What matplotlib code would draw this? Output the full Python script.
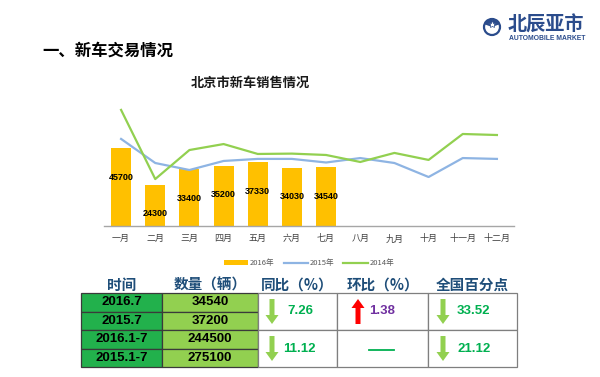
import numpy as np
import matplotlib.pyplot as plt
from matplotlib import patches

plt.rcParams['font.family'] = ['Noto Sans CJK SC', 'DejaVu Sans']

# chart data
months = ['一月', '二月', '三月', '四月', '五月', '六月', '七月',
          '八月', '九月', '十月', '十一月', '十二月']
sales_2016 = [45700, 24300, 33400, 35200, 37330, 34030, 34540]
sales_2015 = [51000, 36900, 32800, 38100, 39300, 39300, 37200,
              39800, 36900, 28700, 39800, 39300]
sales_2014 = [68000, 27500, 44500, 48000, 42200, 42400, 41600,
              37500, 42800, 38700, 53900, 53300]

# table data
headers = ['时间', '数量（辆）', '同比（%）', '环比（%）', '全国百分点']
periods = ['2016.7', '2015.7', '2016.1-7', '2015.1-7']
volumes = [34540, 37200, 244500, 275100]
yoy = [7.26, 11.12]
mom = [1.38, None]
national = [33.52, 21.12]

W, H = 600, 377
fig = plt.figure(figsize=(6, 3.77), dpi=100)

# full-figure layer in pixel units for slide decorations and table
bg = fig.add_axes([0, 0, 1, 1])
bg.set_xlim(0, W)
bg.set_ylim(H, 0)
bg.axis('off')

bg.text(42, 51, '一、新车交易情况', fontsize=11.8, fontweight='bold',
        va='center', ha='left', color='black')
bg.text(250, 83, '北京市新车销售情况', fontsize=9.5, fontweight='bold',
        va='center', ha='center', color='#1a1a1a')

# logo
logo_blue = '#2b4c8c'
bg.add_patch(patches.Circle((492, 27), 8, fill=False, ec=logo_blue, lw=1.6))
bg.add_patch(patches.Wedge((492, 27), 8, 200, 340, fc=logo_blue, ec='none'))
bg.plot([492], [24], marker='*', ms=6, color='white', mec=logo_blue, mew=0.5)
bg.text(508, 25, '北辰亚市', fontsize=13.8, fontweight='heavy', color=logo_blue,
        va='center', ha='left')
bg.text(509, 39, 'AUTOMOBILE MARKET', fontsize=4.9, fontweight='bold',
        color=logo_blue, va='center', ha='left', family='Liberation Sans')

# chart axes
x = np.arange(len(months))
ax = fig.add_axes([104 / W, 1 - 226 / H, 410 / W, 119.5 / H])
bars = ax.bar(x[:len(sales_2016)], sales_2016, width=0.585, color='#FFC000',
              label='2016年', zorder=2)
l15, = ax.plot(x, sales_2015, color='#8EB4E3', lw=1.6, label='2015年', zorder=3)
l14, = ax.plot(x, sales_2014, color='#92D050', lw=1.6, label='2014年', zorder=4)
for xi, v in zip(x, sales_2016):
    ax.text(xi, v - 17000, str(v), ha='center', va='center', fontsize=6.5,
            fontweight='bold', family='Liberation Sans', zorder=5)
ax.set_xlim(-0.5, len(months) - 0.5)
ax.set_ylim(0, 70000)
ax.set_xticks(x)
ax.set_xticklabels(months, fontsize=6.5, color='#404040')
ax.tick_params(axis='x', length=0, pad=6)
ax.set_yticks([])
for s in ['top', 'right', 'left']:
    ax.spines[s].set_visible(False)
ax.spines['bottom'].set_color('#a6a6a6')
ax.spines['bottom'].set_linewidth(1.0)
ax.patch.set_alpha(0)
leg = ax.legend([bars, l15, l14], ['2016年', '2015年', '2014年'],
                loc='upper center', bbox_to_anchor=(0.5, -0.22), ncol=3,
                frameon=False, fontsize=5.5, handlelength=3.2,
                handleheight=0.6, columnspacing=1.2, handletextpad=0.2)
for t in leg.get_texts():
    t.set_color('#595959')

# table
col_edges = [81, 162, 258, 337, 428, 517]
row_edges = [293, 311.5, 330, 348.5, 367]
header_y = 284.5
hdr_color = '#1f4e79'
for i, h in enumerate(headers):
    cx = (col_edges[i] + col_edges[i + 1]) / 2
    bg.text(cx, header_y, h, fontsize=10.5, fontweight='bold', color=hdr_color,
            ha='center', va='center')

fills = ['#22B14C', '#92D050']
for c in range(2):
    for r in range(4):
        bg.add_patch(patches.Rectangle((col_edges[c], row_edges[r]),
                                       col_edges[c + 1] - col_edges[c],
                                       row_edges[r + 1] - row_edges[r],
                                       fc=fills[c], ec='#3a3a3a', lw=0.9))
    vals = periods if c == 0 else [str(v) for v in volumes]
    cx = (col_edges[c] + col_edges[c + 1]) / 2
    for r, s in enumerate(vals):
        cy = (row_edges[r] + row_edges[r + 1]) / 2
        bg.text(cx, cy, s, fontsize=9.5, fontweight='bold',
                family='Liberation Sans', ha='center', va='center')

# merged white cells
grid_c = '#7f7f7f'
for c in range(2, 5):
    for r in (0, 2):
        bg.add_patch(patches.Rectangle((col_edges[c], row_edges[r]),
                                       col_edges[c + 1] - col_edges[c],
                                       row_edges[r + 2] - row_edges[r],
                                       fc='white', ec=grid_c, lw=0.9))


def arrow(xc, y_from, y_to, color):
    bg.add_patch(patches.FancyArrow(xc, y_from, 0, y_to - y_from, width=5,
                                    head_width=13, head_length=9,
                                    length_includes_head=True,
                                    fc=color, ec='none'))


val_green = '#00B050'
arr_green = '#92D050'
for k, merged_r in enumerate((0, 2)):
    top, bot = row_edges[merged_r], row_edges[merged_r + 2]
    cy = (top + bot) / 2
    # yoy
    arrow(272, top + 6, bot - 6, arr_green)
    bg.text(283 if k else 287, cy, f'{yoy[k]:.2f}', fontsize=9.5,
            fontweight='bold', family='Liberation Sans', color=val_green,
            ha='left', va='center')
    # mom
    if mom[k] is not None:
        arrow(358, bot - 6, top + 6, '#FF0000')
        bg.text(369, cy, f'{mom[k]:.2f}', fontsize=9.5, fontweight='bold',
                family='Liberation Sans', color='#7030A0',
                ha='left', va='center')
    else:
        bg.plot([369, 394], [cy + 1, cy + 1], color=val_green, lw=1.3)
    # national
    arrow(443, top + 6, bot - 6, arr_green)
    bg.text(457, cy, f'{national[k]:.2f}', fontsize=9.5, fontweight='bold',
            family='Liberation Sans', color=val_green,
            ha='left', va='center')

fig.savefig('out.png', dpi=100)
